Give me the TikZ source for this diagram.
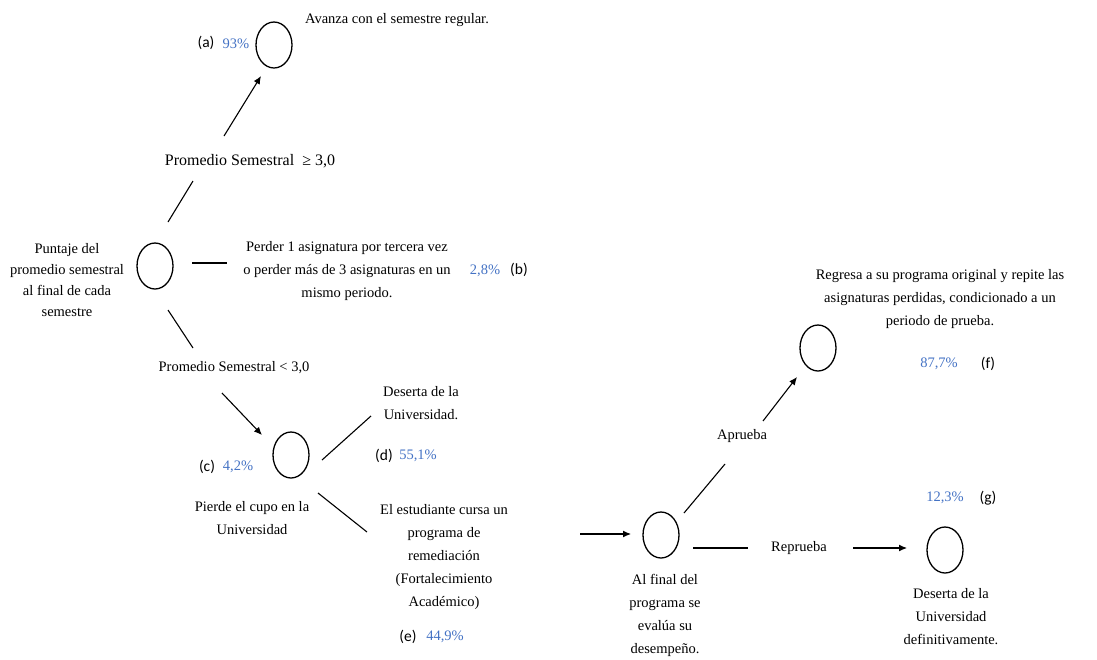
\documentclass[tikz,border=0pt]{standalone}
\usepackage{fontspec}
\setmainfont{Liberation Serif}
\newfontfamily\lblfont{Carlito}
\usetikzlibrary{arrows.meta,shapes.geometric}
\definecolor{pctblue}{RGB}{68,114,196}
\begin{document}
\begin{tikzpicture}
[x=1pt,y=-1pt,%
  every node/.style={inner sep=0pt,align=center,font=\fontsize{14.5}{23}\selectfont},%
  state/.style={shape=ellipse,draw,line width=1.3pt,minimum width=36pt,minimum height=46pt},%
  tag/.style={font=\lblfont\fontsize{15.5}{18}\selectfont},%
  pct/.style={text=pctblue},%
  link/.style={line width=1.1pt},%
  arr/.style={link,-{Latex[length=8pt,width=7pt]}}]
\useasboundingbox (0,0) rectangle (1097,659);
\node[state] (root) at (155,266) {};
\node[font=\fontsize{14.5}{21}\selectfont] (troot) at (67,280) {Puntaje del\\promedio semestral\\al final de cada\\semestre};
\node (ge) at (250,161) {\fontsize{16}{20}\selectfont Promedio Semestral \ ≥ 3,0};
\node[state] (a) at (274,45) {};
\node[tag] (la) at (206,43) {(a)};
\node[pct] (pa) at (236,44) {93\%};
\node (ta) at (397,20) {Avanza con el semestre regular.};
\node (tb) at (347,271) {Perder 1 asignatura por tercera vez\\o perder más de 3 asignaturas en un\\mismo periodo.};
\node[pct] (pb) at (485,271) {2,8\%};
\node[tag] (lb) at (519,270) {(b)};
\node (lt) at (234,368) {Promedio Semestral < 3,0};
\node[state] (c) at (291,455) {};
\node[tag] (lc) at (207,467) {(c)};
\node[pct] (pc) at (238,467) {4,2\%};
\node (tc) at (252,518) {Pierde el cupo en la\\Universidad};
\node (td) at (421,403) {Deserta de la\\Universidad.};
\node[tag] (ld) at (384,456) {(d)};
\node[pct] (pd) at (418,456) {55,1\%};
\node (te) at (444,557) {El estudiante cursa un\\programa de\\remediación\\(Fortalecimiento\\Académico)};
\node[tag] (le) at (408,637) {(e)};
\node[pct] (pe) at (445,637) {44,9\%};
\node[state] (ev) at (661,535) {};
\node (tev) at (665,615) {Al final del\\programa se\\evalúa su\\desempeño.};
\node (ap) at (742,436) {Aprueba};
\node[state] (f) at (818,348) {};
\node (tf) at (940,299) {Regresa a su programa original y repite las\\asignaturas perdidas, condicionado a un\\periodo de prueba.};
\node[pct] (pf) at (939,364) {87,7\%};
\node[tag] (lf) at (988,364) {(f)};
\node (rp) at (799,548) {Reprueba};
\node[state] (g) at (945,550) {};
\node[pct] (pg) at (945,498) {12,3\%};
\node[tag] (lg) at (988,498) {(g)};
\node (tg) at (951,617) {Deserta de la\\Universidad\\definitivamente.};
\draw[link] ([shift={(13,-44)}]root.center) -- ([shift={(-57,20)}]ge.center);
\draw[arr] ([shift={(-26,-25)}]ge.center) -- ([shift={(-13,31)}]a.center);
\draw[link] ([shift={(37,-3)}]root.center) -- ([shift={(72,-3)}]root.center);
\draw[link] ([shift={(13,44)}]root.center) -- ([shift={(-41,-20)}]lt.center);
\draw[arr] ([shift={(-12,25)}]lt.center) -- ([shift={(-29,-20)}]c.center);
\draw[link] ([shift={(31,5)}]c.center) -- ([shift={(-50,13)}]td.center);
\draw[link] ([shift={(27,38)}]c.center) -- ([shift={(-77,-25)}]te.center);
\draw[arr] ([shift={(136,-23)}]te.center) -- ([shift={(-30,-1)}]ev.center);
\draw[link] ([shift={(23,-22)}]ev.center) -- ([shift={(-17,28)}]ap.center);
\draw[arr] ([shift={(21,-15)}]ap.center) -- ([shift={(-21,29)}]f.center);
\draw[link] ([shift={(32,13)}]ev.center) -- ([shift={(-51,0)}]rp.center);
\draw[arr] ([shift={(54,0)}]rp.center) -- ([shift={(-38,-2)}]g.center);
\end{tikzpicture}
\end{document}
